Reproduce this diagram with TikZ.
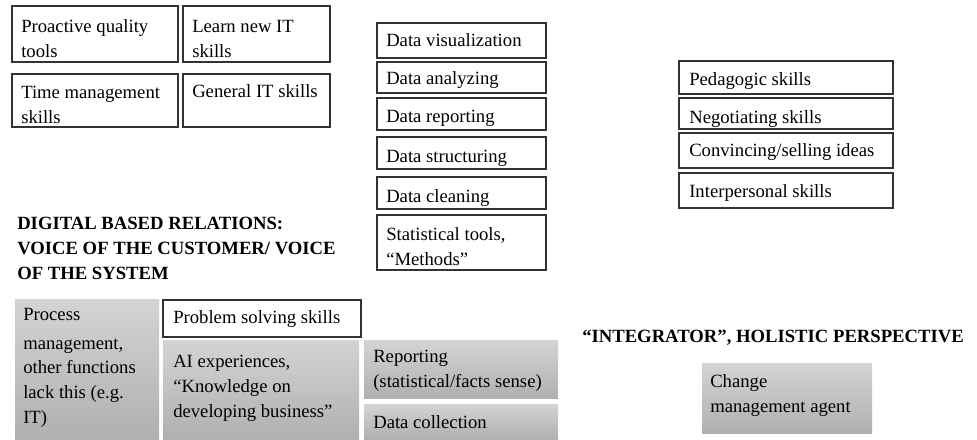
\documentclass[tikz,border=0pt]{standalone}
\usepackage{fontspec}
\setmainfont{Liberation Serif}
\tikzset{
  skillbox/.style={draw=black!80, line width=0.9pt, fill=white},
  greybox/.style={top color=black!17, bottom color=black!31},
  lbl/.style={anchor=base west, inner sep=0pt, align=left, font=\fontsize{14}{18.4}\selectfont},
  head/.style={lbl, font=\fontsize{14}{18.4}\selectfont\bfseries}
}
\begin{document}
\begin{tikzpicture}[x=0.75pt, y=-0.75pt]
\useasboundingbox (0,0) rectangle (977,439);
% quality and IT skills (labels sit on the baseline of their last line)
\draw[skillbox] (12,6) rectangle (178,62);
\node[lbl] (proactive) at (21,57) {Proactive quality\\tools};
\draw[skillbox] (183,6) rectangle (330,62);
\node[lbl] (learnit) at (192,57) {Learn new IT\\skills};
\draw[skillbox] (12,74) rectangle (178,127);
\node[lbl] (timemgmt) at (21,123) {Time management\\skills};
\draw[skillbox] (183,74) rectangle (330,127);
\node[lbl] (generalit) at (192,97) {General IT skills};
% data column
\foreach \n/\t/\b/\bl/\txt in {vis/23/58/46/Data visualization, anal/62/93/84/Data analyzing,
  rep/98/130/122/Data reporting, struct/137/169/162/Data structuring, clean/177/209/202/Data cleaning}{
 \draw[skillbox] (377,\t) rectangle (546,\b);
 \node[lbl] (data-\n) at (386,\bl) {\txt};
}
\draw[skillbox] (377,215) rectangle (546,270);
\node[lbl] (stattools) at (386,265) {Statistical tools,\\``Methods''};
% soft skills
\foreach \n/\t/\b/\bl/\txt in {ped/61/94/85/{Pedagogic skills}, neg/98/129/123/{Negotiating skills},
  conv/133/168/156/{Convincing/selling ideas}, inter/173/208/197/{Interpersonal skills}}{
 \draw[skillbox] (679,\t) rectangle (893,\b);
 \node[lbl] (soft-\n) at (689,\bl) {\txt};
}
% headings
\node[head] (digital) at (17,279) {DIGITAL BASED RELATIONS:\\VOICE OF THE CUSTOMER/ VOICE\\OF THE SYSTEM};
\node[head] (integrator) at (582,342) {``INTEGRATOR'', HOLISTIC PERSPECTIVE};
% bottom row
\path[greybox] (15,299) rectangle (159,439);
\node[lbl] (process) at (23,423) {Process\\[3pt]management,\\other functions\\lack this (e.g.\\IT)};
\draw[skillbox] (163,300) rectangle (361,337);
\node[lbl] (problem) at (173,323) {Problem solving skills};
\path[greybox] (163,340) rectangle (359,439);
\node[lbl] (aiexp) at (173,417) {AI experiences,\\``Knowledge on\\developing business''};
\path[greybox] (364,340) rectangle (558,398);
\node[lbl] (reporting) at (373,387) {Reporting\\(statistical/facts sense)};
\path[greybox] (364,404) rectangle (558,439);
\node[lbl] (collection) at (373,428) {Data collection};
\path[greybox] (702,363) rectangle (872,433);
\node[lbl] (change) at (710,412) {Change\\management agent};
\end{tikzpicture}
\end{document}
